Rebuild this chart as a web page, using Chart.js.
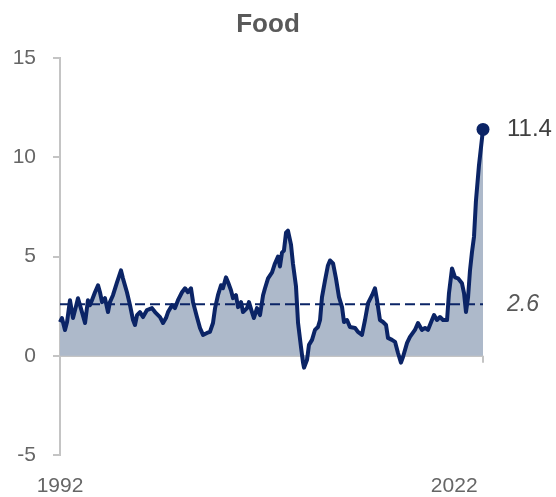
<!DOCTYPE html>
<html>
<head>
<meta charset="utf-8">
<script src="https://cdn.jsdelivr.net/npm/chart.js@4.4.1/dist/chart.umd.min.js"></script>
<style>
  html, body { margin: 0; padding: 0; background: #fff; }
</style>
</head>
<body>
<canvas id="foodChart" width="556" height="497"></canvas>
<script>
// values (decimal year, % y/y)
const years = [
  1992.00, 1992.14, 1992.36, 1992.51, 1992.72, 1992.94, 1993.16, 1993.30, 1993.59, 1993.81,
  1994.02, 1994.17, 1994.31, 1994.53, 1994.75, 1994.89, 1995.04, 1995.25, 1995.47, 1995.61,
  1995.83, 1996.12, 1996.41, 1996.55, 1996.84, 1997.06, 1997.28, 1997.42, 1997.57, 1997.78,
  1998.00, 1998.29, 1998.65, 1998.87, 1999.23, 1999.45, 1999.66, 1999.81, 2000.10, 2000.31,
  2000.53, 2000.82, 2001.04, 2001.25, 2001.47, 2001.62, 2001.90, 2002.12, 2002.34, 2002.63,
  2002.84, 2003.06, 2003.21, 2003.42, 2003.64, 2003.78, 2004.00, 2004.15, 2004.36, 2004.51,
  2004.72, 2004.87, 2005.09, 2005.23, 2005.52, 2005.66, 2005.88, 2006.02, 2006.24, 2006.46,
  2006.68, 2006.82, 2007.04, 2007.33, 2007.54, 2007.76, 2007.90, 2008.05, 2008.19, 2008.34,
  2008.48, 2008.70, 2008.84, 2009.06, 2009.21, 2009.42, 2009.57, 2009.64, 2009.86, 2010.00,
  2010.22, 2010.43, 2010.65, 2010.80, 2010.94, 2011.16, 2011.37, 2011.52, 2011.74, 2011.95,
  2012.17, 2012.39, 2012.53, 2012.75, 2012.96, 2013.33, 2013.54, 2013.83, 2014.05, 2014.27,
  2014.56, 2014.77, 2014.92, 2015.13, 2015.35, 2015.57, 2015.71, 2016.00, 2016.22, 2016.43,
  2016.65, 2016.80, 2017.09, 2017.30, 2017.66, 2017.88, 2018.17, 2018.39, 2018.60, 2018.89,
  2019.04, 2019.25, 2019.47, 2019.69, 2019.98, 2020.12, 2020.34, 2020.56, 2020.77, 2021.06,
  2021.21, 2021.35, 2021.50, 2021.64, 2021.78, 2021.93, 2022.07, 2022.29, 2022.58
];
const foodInflation = [
  1.7, 1.9, 1.3, 1.7, 2.8, 1.9, 2.5, 2.9, 2.2, 1.65,
  2.8, 2.55, 2.8, 3.2, 3.55, 3.2, 2.7, 2.9, 2.2, 2.7,
  3.05, 3.7, 4.3, 3.9, 3.2, 2.55, 1.8, 1.55, 2.05, 2.2,
  1.95, 2.3, 2.4, 2.2, 1.95, 1.65, 1.9, 2.2, 2.55, 2.4,
  2.8, 3.2, 3.4, 3.2, 3.4, 2.7, 1.95, 1.4, 1.05, 1.15,
  1.2, 1.65, 2.4, 3.05, 3.55, 3.4, 3.95, 3.7, 3.3, 2.9,
  3.05, 2.45, 2.7, 2.2, 2.4, 2.7, 2.2, 1.9, 2.4, 2.05,
  3.05, 3.4, 3.9, 4.2, 4.65, 5.0, 4.5, 5.2, 5.3, 6.2,
  6.3, 5.6, 4.65, 3.5, 1.65, 0.45, -0.35, -0.6, -0.2, 0.55,
  0.8, 1.3, 1.45, 1.8, 2.95, 3.8, 4.55, 4.8, 4.65, 3.9,
  2.95, 2.45, 1.7, 1.8, 1.45, 1.4, 1.2, 1.05, 1.8, 2.65,
  3.05, 3.4, 2.8, 1.8, 1.7, 1.55, 0.9, 0.8, 0.7, 0.15,
  -0.35, -0.05, 0.65, 0.95, 1.3, 1.65, 1.3, 1.4, 1.3, 1.8,
  2.05, 1.8, 1.95, 1.8, 1.8, 3.15, 4.4, 3.95, 3.9, 3.65,
  3.15, 2.2, 2.95, 4.3, 5.2, 6.0, 7.8, 9.6, 11.4
];
const average = 2.6;
const yTicks = [-5, 0, 5, 10, 15];
const xTickValues = [1992, 2020.5];
const xTickLabels = ['1992', '2022'];

const navy = '#0b2466';
const axisGrey = '#c4c4c4';
const FONT = '"Liberation Sans", Arial, sans-serif';

const seriesPoints = years.map((y, i) => ({ x: y, y: foodInflation[i] }));
const avgPoints = [
  { x: years[0], y: average },
  { x: years[years.length - 1], y: average }
];
const lastIdx = seriesPoints.length - 1;

// title, end labels and the little tick at the end of the zero line
const annotations = {
  id: 'annotations',
  afterDraw(chart) {
    const { ctx, chartArea, scales } = chart;
    const yS = scales.y;
    ctx.save();
    ctx.fillStyle = '#595959';
    ctx.font = 'bold 26px ' + FONT;
    ctx.textAlign = 'center';
    ctx.textBaseline = 'middle';
    ctx.fillText('Food', 268, 25);

    ctx.textAlign = 'left';
    ctx.fillStyle = '#404040';
    ctx.font = '24px ' + FONT;
    ctx.fillText(foodInflation[lastIdx].toFixed(1), chartArea.right + 24, yS.getPixelForValue(foodInflation[lastIdx]));

    ctx.fillStyle = '#595959';
    ctx.font = 'italic 23px ' + FONT;
    ctx.fillText(average.toFixed(1), chartArea.right + 24, yS.getPixelForValue(average));

    const y0 = yS.getPixelForValue(0);
    ctx.strokeStyle = axisGrey;
    ctx.lineWidth = 2;
    ctx.beginPath();
    ctx.moveTo(chartArea.right, y0);
    ctx.lineTo(chartArea.right, y0 + 7);
    ctx.stroke();
    ctx.restore();
  }
};

new Chart(document.getElementById('foodChart'), {
  type: 'line',
  data: {
    datasets: [
      {
        label: 'Food',
        data: seriesPoints,
        borderColor: navy,
        borderWidth: 4,
        backgroundColor: '#adb9ca',
        fill: 'origin',
        tension: 0,
        clip: false,
        pointRadius: ctx => ctx.dataIndex === lastIdx ? 6.5 : 0,
        pointBackgroundColor: navy,
        pointBorderWidth: 0,
        borderJoinStyle: 'round'
      },
      {
        label: 'Average',
        data: avgPoints,
        borderColor: navy,
        borderWidth: 2,
        borderDash: [10, 5],
        pointRadius: 0,
        fill: false
      }
    ]
  },
  options: {
    responsive: false,
    animation: false,
    layout: { padding: { left: 0, right: 73, top: 58, bottom: 0 } },
    plugins: {
      legend: { display: false },
      tooltip: { enabled: false },
      filler: { drawTime: 'beforeDatasetsDraw' }
    },
    scales: {
      x: {
        type: 'linear',
        min: years[0],
        max: years[years.length - 1],
        grid: { display: false, drawTicks: false },
        border: { display: false },
        afterBuildTicks: scale => { scale.ticks = xTickValues.map(v => ({ value: v })); },
        afterFit: scale => { scale.height = 42; },
        ticks: {
          autoSkip: false,
          maxRotation: 0,
          padding: 19,
          color: '#666666',
          font: { family: FONT, size: 21 },
          callback: (v, i) => xTickLabels[i]
        }
      },
      y: {
        min: -5,
        max: 15,
        afterBuildTicks: scale => { scale.ticks = yTicks.map(v => ({ value: v })); },
        afterFit: scale => { scale.width = 60; },
        grid: {
          color: c => c.tick && c.tick.value === 0 ? axisGrey : 'rgba(0,0,0,0)',
          lineWidth: 2,
          tickColor: axisGrey,
          tickLength: 7
        },
        border: { display: true, color: axisGrey, width: 2 },
        ticks: {
          padding: 17,
          color: '#666666',
          font: { family: FONT, size: 21 }
        }
      }
    }
  },
  plugins: [annotations]
});
</script>
</body>
</html>
